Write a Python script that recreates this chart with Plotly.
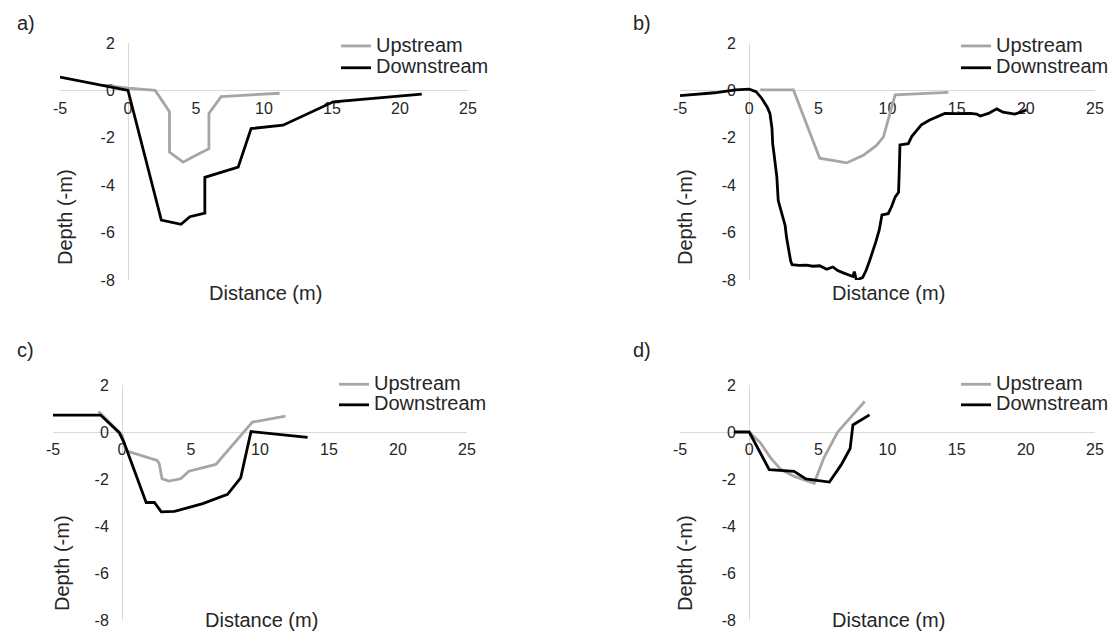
import plotly.graph_objects as go

# ---------------- data: cross-section profiles (distance m, depth m) ----------------
# a)
a_up_x = [-1.8, 0.0, 2.0, 3.05, 3.05, 4.05, 5.0, 5.95, 5.95, 6.85, 11.15]
a_up_y = [0.22, 0.1, 0.0, -0.9, -2.6, -3.03, -2.74, -2.46, -0.97, -0.26, -0.12]
a_dn_x = [-5.0, 0.0, 2.45, 3.9, 4.55, 5.65, 5.65, 8.1, 9.05, 11.4, 15.1, 21.6]
a_dn_y = [0.56, 0.0, -5.47, -5.65, -5.33, -5.18, -3.67, -3.24, -1.61, -1.47, -0.48, -0.16]

# b)
b_up_x = [0.8, 3.2, 5.1, 7.05, 8.25, 9.2, 9.7, 10.2, 10.55, 14.4]
b_up_y = [0.02, 0.02, -2.86, -3.06, -2.74, -2.32, -1.97, -0.85, -0.19, -0.08]
b_dn_x = [-5.0, -2.5, -1.0, 0.0, 0.5, 0.9, 1.3, 1.5, 1.65, 1.7, 1.8, 1.85, 2.0, 2.1,
          2.3, 2.45, 2.6, 2.7, 2.85, 3.0, 3.1, 3.6, 4.15, 4.6, 5.1, 5.6, 6.05, 6.4,
          6.8, 7.2, 7.5, 7.6, 7.75, 8.2, 8.45, 8.7, 8.95, 9.15, 9.4, 9.6, 10.05,
          10.3, 10.55, 10.8, 10.85, 10.9, 11.5, 11.75, 12.1, 12.45, 13.05, 13.8,
          14.15, 15.0, 16.0, 16.45, 16.7, 17.3, 17.9, 18.35, 19.2, 19.7, 20.05]
b_dn_y = [-0.22, -0.1, 0.02, 0.05, -0.05, -0.33, -0.7, -0.97, -1.6, -2.25, -2.7, -2.95,
          -3.65, -4.65, -5.1, -5.35, -5.7, -6.2, -6.8, -7.2, -7.35, -7.38, -7.37,
          -7.42, -7.4, -7.55, -7.45, -7.6, -7.7, -7.78, -7.85, -7.65, -8.0, -7.9,
          -7.6, -7.2, -6.8, -6.4, -5.9, -5.25, -5.2, -4.9, -4.5, -4.3, -3.4, -2.3,
          -2.25, -1.95, -1.7, -1.45, -1.25, -1.05, -0.97, -0.98, -0.97, -1.0, -1.08,
          -0.97, -0.78, -0.92, -1.0, -0.9, -0.82]

# c)
c_up_x = [-1.7, 0.0, 0.3, 2.55, 2.7, 2.9, 3.4, 4.25, 4.85, 6.8, 9.45, 11.85]
c_up_y = [0.87, -0.13, -0.8, -1.21, -1.35, -1.99, -2.09, -1.99, -1.67, -1.38, 0.42, 0.68]
c_dn_x = [-5.0, -1.55, -0.2, 0.15, 1.75, 2.35, 2.85, 3.8, 5.85, 7.65, 8.6, 9.35, 13.45]
c_dn_y = [0.72, 0.72, -0.03, -0.45, -3.0, -3.0, -3.4, -3.38, -3.05, -2.65, -1.95, 0.02, -0.23]

# d)
d_up_x = [0.0, 0.8, 1.55, 2.3, 3.3, 4.7, 5.4, 6.4, 7.3, 8.35]
d_up_y = [0.0, -0.45, -1.1, -1.6, -1.9, -2.18, -1.1, 0.0, 0.6, 1.3]
d_dn_x = [-1.1, 0.0, 1.45, 3.25, 4.1, 5.8, 6.65, 7.3, 7.5, 8.7]
d_dn_y = [0.0, 0.0, -1.6, -1.67, -2.0, -2.13, -1.4, -0.7, 0.3, 0.73]

panel_labels = ["a)", "b)", "c)", "d)"]
series_names = ["Upstream", "Downstream"]
x_ticks = [-5, 0, 5, 10, 15, 20, 25]
x_tick_labels = ["-5", "0", "5", "10", "15", "20", "25"]
y_ticks = [-8, -6, -4, -2, 0, 2]
y_tick_labels = ["-8", "-6", "-4", "-2", "0", "2"]
x_title = "Distance (m)"
y_title = "Depth (-m)"

# ---------------- layout helpers ----------------
W, H = 1112, 632
X_RANGE = [-5, 25]
Y_RANGE = [-8, 2]
UP_COLOR = "#a6a6a6"
DN_COLOR = "#000000"
TEXT = "#262626"
AXIS = "#d9d9d9"
FONT = "Liberation Sans, Arial, sans-serif"


def px_x(p):
    return p / W


def px_y(p):
    return 1 - p / H


# plot-area pixel boxes (left, right, top, bottom) for each panel
boxes = [(60, 468, 43, 280), (680, 1095, 43, 280),
         (53, 467, 385, 620), (680, 1095, 385, 620)]
series = [((a_up_x, a_up_y), (a_dn_x, a_dn_y)),
          ((b_up_x, b_up_y), (b_dn_x, b_dn_y)),
          ((c_up_x, c_up_y), (c_dn_x, c_dn_y)),
          ((d_up_x, d_up_y), (d_dn_x, d_dn_y))]
# legend box left edge and top edge (pixels)
legend_pos = [(336, 30), (956, 30), (334, 369), (956, 369)]
label_pos = [(15, 23), (631, 23), (15, 350), (631, 350)]

fig = go.Figure()
layout = dict(
    width=W, height=H,
    margin=dict(l=0, r=0, t=0, b=0, autoexpand=False),
    paper_bgcolor="white", plot_bgcolor="white",
    font=dict(family=FONT, color=TEXT),
    annotations=[],
)

for i, ((l, r, t, b), (up, dn)) in enumerate(zip(boxes, series)):
    n = "" if i == 0 else str(i + 1)
    leg = "legend" if i == 0 else f"legend{i + 1}"
    xd = [px_x(l), px_x(r)]
    yd = [px_y(b), px_y(t)]
    # where the zero lines sit, in paper coordinates
    y_zero = yd[0] + (0 - Y_RANGE[0]) / (Y_RANGE[1] - Y_RANGE[0]) * (yd[1] - yd[0])
    x_zero = xd[0] + (0 - X_RANGE[0]) / (X_RANGE[1] - X_RANGE[0]) * (xd[1] - xd[0])

    layout[f"xaxis{n}"] = dict(
        domain=xd, range=X_RANGE, anchor="free", position=y_zero,
        showline=True, linecolor=AXIS, linewidth=1, showgrid=False,
        zeroline=False, ticks="", tickvals=x_ticks, ticktext=x_tick_labels,
        ticklabelstandoff=3, tickfont=dict(size=16, color=TEXT),
        layer="below traces",
    )
    layout[f"yaxis{n}"] = dict(
        domain=yd, range=Y_RANGE, anchor="free", position=x_zero,
        showline=True, linecolor=AXIS, linewidth=1, showgrid=False,
        zeroline=False, ticks="", tickvals=y_ticks, ticktext=y_tick_labels,
        ticklabelstandoff=10, tickfont=dict(size=16, color=TEXT),
        layer="below traces",
    )

    for (xs, ys), name, col in zip((up, dn), series_names, (UP_COLOR, DN_COLOR)):
        fig.add_trace(go.Scatter(
            x=xs, y=ys, mode="lines",
            # larger label text on a compact legend row
            name=f'<span style="font-size:20px">{name}</span>',
            line=dict(color=col, width=2.8),
            xaxis=f"x{n}", yaxis=f"y{n}", legend=leg,
        ))

    lx, ly = legend_pos[i]
    layout[leg] = dict(
        x=px_x(lx), y=px_y(ly), xanchor="left", yanchor="top",
        bgcolor="rgba(0,0,0,0)", font=dict(size=14.5 if i < 2 else 13.5, color=TEXT),
        itemwidth=30, tracegroupgap=0,
    )

    # axis titles
    layout["annotations"].append(dict(
        text=x_title, xref="paper", yref="paper",
        x=px_x((l + r) / 2 + 1), y=px_y(t + 250 if i < 2 else t + 235),
        showarrow=False, font=dict(size=20, color=TEXT),
        xanchor="center", yanchor="middle",
    ))
    layout["annotations"].append(dict(
        text=y_title, xref="paper", yref="paper", textangle=-90,
        x=px_x(l + 5 if i != 2 else l + 9), y=px_y(t + 174 if i < 2 else t + 178),
        showarrow=False, font=dict(size=20, color=TEXT),
        xanchor="center", yanchor="middle",
    ))
    px_, py_ = label_pos[i]
    layout["annotations"].append(dict(
        text=panel_labels[i], xref="paper", yref="paper",
        x=px_x(px_), y=px_y(py_), showarrow=False,
        font=dict(size=20, color=TEXT), xanchor="left", yanchor="middle",
    ))

fig.update_layout(**layout)
fig.write_html("out.html")
